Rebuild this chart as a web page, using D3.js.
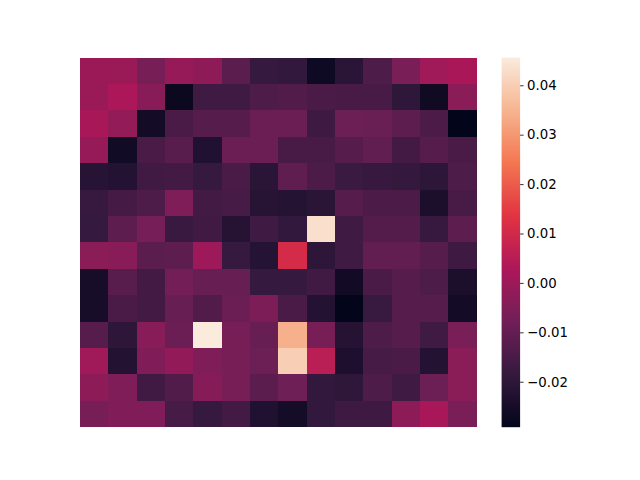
<!DOCTYPE html>
<html><head><meta charset="utf-8">
<script src="https://cdn.jsdelivr.net/npm/d3@7"></script>
<style>body{margin:0;background:#fff}svg{display:block}</style>
</head><body>
<script>
const rows = d3.range(14);
const cols = d3.range(14);
const values = [
 [-0.0001,-0.0005,-0.0064,-0.0010,-0.0025,-0.0118,-0.0185,-0.0191,-0.0266,-0.0209,-0.0140,-0.0061,0.0006,0.0024],
 [-0.0005,0.0027,-0.0036,-0.0275,-0.0167,-0.0167,-0.0140,-0.0132,-0.0147,-0.0151,-0.0151,-0.0198,-0.0264,-0.0033],
 [0.0020,-0.0019,-0.0256,-0.0145,-0.0125,-0.0125,-0.0089,-0.0089,-0.0169,-0.0085,-0.0091,-0.0111,-0.0141,-0.0292],
 [-0.0012,-0.0260,-0.0147,-0.0122,-0.0228,-0.0089,-0.0089,-0.0151,-0.0152,-0.0125,-0.0105,-0.0160,-0.0125,-0.0149],
 [-0.0215,-0.0223,-0.0165,-0.0161,-0.0183,-0.0147,-0.0206,-0.0109,-0.0143,-0.0174,-0.0181,-0.0187,-0.0200,-0.0140],
 [-0.0181,-0.0156,-0.0140,-0.0054,-0.0161,-0.0154,-0.0215,-0.0219,-0.0206,-0.0125,-0.0143,-0.0143,-0.0241,-0.0151],
 [-0.0185,-0.0111,-0.0068,-0.0178,-0.0163,-0.0217,-0.0167,-0.0191,0.0433,-0.0167,-0.0130,-0.0130,-0.0181,-0.0111],
 [-0.0033,-0.0036,-0.0118,-0.0111,0.0003,-0.0185,-0.0219,0.0109,-0.0200,-0.0167,-0.0102,-0.0102,-0.0125,-0.0169],
 [-0.0247,-0.0120,-0.0160,-0.0071,-0.0096,-0.0096,-0.0185,-0.0183,-0.0165,-0.0258,-0.0147,-0.0125,-0.0140,-0.0238],
 [-0.0249,-0.0149,-0.0161,-0.0096,-0.0132,-0.0089,-0.0057,-0.0147,-0.0223,-0.0291,-0.0180,-0.0125,-0.0125,-0.0256],
 [-0.0125,-0.0200,-0.0036,-0.0089,0.0456,-0.0064,-0.0096,0.0342,-0.0064,-0.0217,-0.0140,-0.0125,-0.0167,-0.0061],
 [0.0006,-0.0223,-0.0050,-0.0017,-0.0054,-0.0064,-0.0085,0.0401,0.0054,-0.0236,-0.0154,-0.0147,-0.0223,-0.0033],
 [-0.0029,-0.0054,-0.0165,-0.0132,-0.0041,-0.0064,-0.0118,-0.0083,-0.0189,-0.0198,-0.0140,-0.0167,-0.0085,-0.0033],
 [-0.0064,-0.0050,-0.0050,-0.0154,-0.0183,-0.0160,-0.0228,-0.0253,-0.0189,-0.0169,-0.0169,-0.0029,0.0020,-0.0061]
];
const cbTicks = [-0.02,-0.01,0.00,0.01,0.02,0.03,0.04];

// rocket colormap stops
const rocketStops = [0,1/7,2/7,3/7,4/7,5/7,6/7,1];
const rocketColors = ["#03051a","#35193e","#701f57","#ad1759","#e13342","#f37651","#f6b48f","#faebdd"];
const rocket = d3.scaleLinear().domain(rocketStops).range(rocketColors).interpolate(d3.interpolateRgb).clamp(true);

const W = 640, H = 480;
const mapLeft = 80, mapTop = 57.6, mapW = 396.8, mapH = 369.6;
const cbX = 501.6, cbW = 18.5;

const flat = values.flat();
const vmin = d3.min(flat), vmax = d3.max(flat);
const color = d3.scaleSequential(rocket).domain([vmin, vmax]);

const svg = d3.select("body").append("svg").attr("width", W).attr("height", H);

const x = d3.scaleBand().domain(cols).range([mapLeft, mapLeft + mapW]);
const y = d3.scaleBand().domain(rows).range([mapTop, mapTop + mapH]);

const cells = [];
rows.forEach(r => cols.forEach(c => cells.push({r, c, v: values[r][c]})));
svg.append("g").attr("shape-rendering", "crispEdges").selectAll("rect").data(cells).join("rect")
  .attr("x", d => x(d.c)).attr("y", d => y(d.r))
  .attr("width", d => Math.min(x.bandwidth() + 0.5, mapLeft + mapW - x(d.c)))
  .attr("height", d => Math.min(y.bandwidth() + 0.5, mapTop + mapH - y(d.r)))
  .attr("fill", d => color(d.v));

// colorbar
const cy = d3.scaleLinear().domain([vmin, vmax]).range([mapTop + mapH, mapTop]);
const defs = svg.append("defs");
const grad = defs.append("linearGradient").attr("id", "cbgrad")
  .attr("x1", 0).attr("y1", 1).attr("x2", 0).attr("y2", 0);
d3.range(0, 1.0001, 0.02).forEach(t => grad.append("stop").attr("offset", t).attr("stop-color", rocket(t)));
svg.append("rect").attr("x", cbX).attr("y", mapTop).attr("width", cbW).attr("height", mapH).attr("fill", "url(#cbgrad)");

const fmt = d => (d < 0 ? "\u2212" : "") + d3.format(".2f")(Math.abs(d));
const cbAxis = d3.axisRight(cy).tickValues(cbTicks).tickFormat(fmt).tickSizeOuter(0).tickSize(3.5).tickPadding(3.5);
const g = svg.append("g").attr("transform", `translate(${cbX + cbW},0)`).call(cbAxis);
g.select(".domain").remove();
g.selectAll(".tick line").attr("stroke", "#000").attr("stroke-width", 0.8);
g.selectAll(".tick text").attr("fill", "#000").style("font-family", "DejaVu Sans").style("font-size", "13.3px");
</script>
</body></html>
